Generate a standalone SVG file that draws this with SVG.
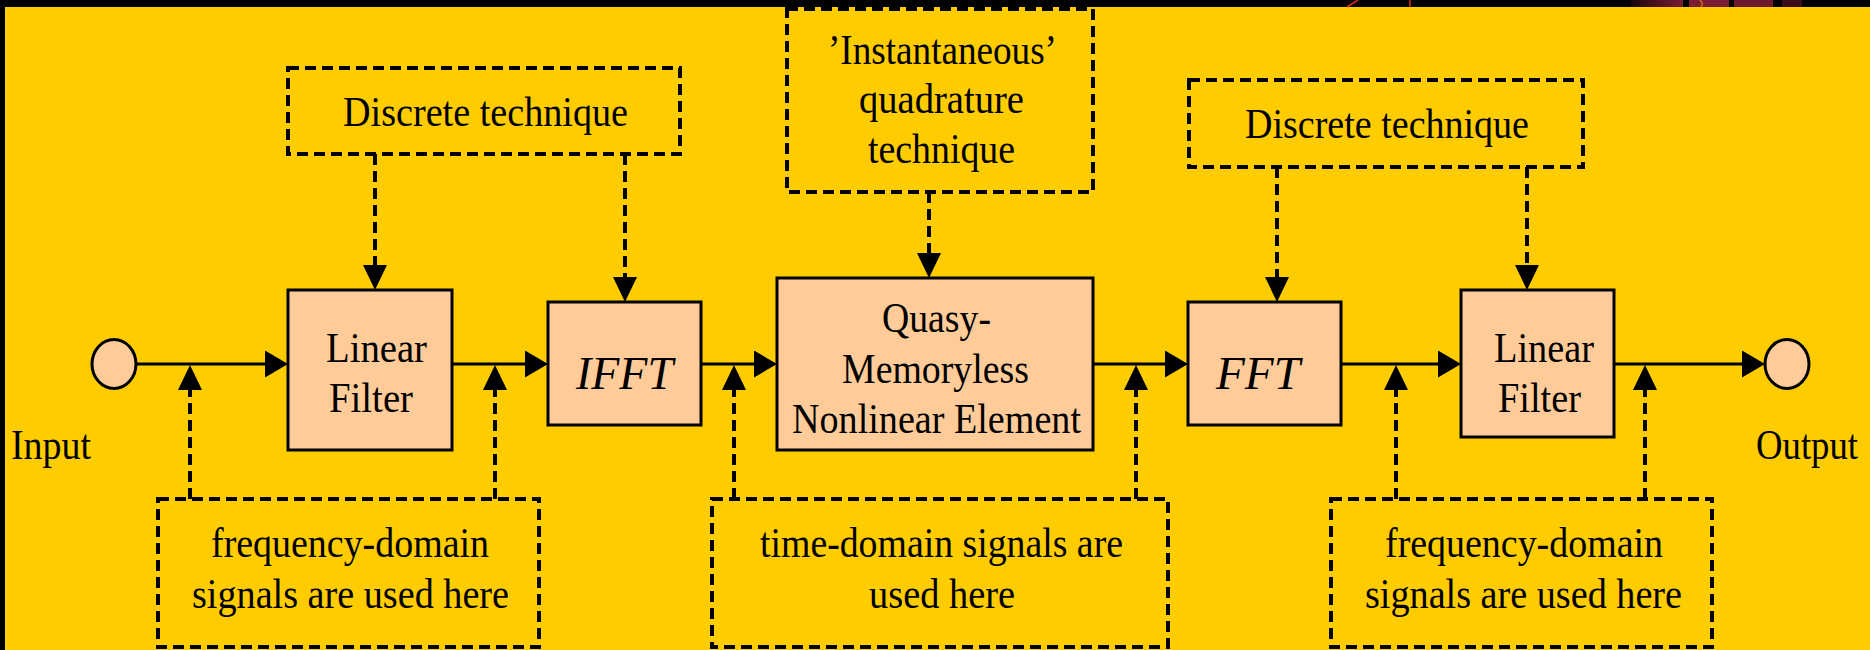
<svg xmlns="http://www.w3.org/2000/svg" width="1870" height="650" viewBox="0 0 1870 650">
  <style>
    .bg { fill: #FFCC00; }
    .blk { fill: #000000; }
    .box { fill: #FFCC99; stroke: #000; stroke-width: 3; }
    .note { fill: none; stroke: #000; stroke-width: 4; stroke-dasharray: 11 6; }
    .flow { fill: none; stroke: #000; stroke-width: 3.2; marker-end: url(#arrH); }
    .ctl { fill: none; stroke: #000; stroke-width: 4; stroke-dasharray: 11 6; marker-end: url(#arrV); }
    text { font-family: "Liberation Serif", "Times New Roman", serif; font-size: 42px; fill: #000; }
    .it { font-style: italic; font-size: 46px; }
  </style>
  <defs>
    <marker id="arrH" markerUnits="userSpaceOnUse" markerWidth="23" markerHeight="27" viewBox="0 0 23 27" refX="0" refY="13.5" orient="auto">
      <path d="M0,0 L23,13.5 L0,27 Z" fill="#000"/>
    </marker>
    <marker id="arrV" markerUnits="userSpaceOnUse" markerWidth="25" markerHeight="24" viewBox="0 0 25 24" refX="0" refY="12" orient="auto">
      <path d="M0,0 L25,12 L0,24 Z" fill="#000"/>
    </marker>
    <linearGradient id="maroon" x1="0" y1="0" x2="1" y2="0">
      <stop offset="0" stop-color="#1a0508"/>
      <stop offset="1" stop-color="#7a1c33"/>
    </linearGradient>
  </defs>

  <!-- page background and frame -->
  <rect class="bg" x="0" y="0" width="1870" height="650"/>
  <rect class="blk" x="0" y="0" width="1870" height="7"/>
  <rect class="blk" x="0" y="0" width="5" height="650"/>
  <g id="corner-art">
    <line x1="1347" y1="7" x2="1358" y2="0" stroke="#e02a1a" stroke-width="1.5"/>
    <line x1="1410" y1="0" x2="1410" y2="7" stroke="#e02a1a" stroke-width="1.5"/>
    <rect x="1631" y="0" width="52" height="7" fill="url(#maroon)"/>
    <rect x="1689" y="0" width="40" height="7" fill="#7a1c33"/>
    <rect x="1734" y="0" width="39" height="7" fill="#6e1a2e"/>
    <rect x="1782" y="0" width="20" height="7" fill="#3a0d18"/>
    <path d="M1700,0 Q1704,4 1701,7" stroke="#e07a1a" stroke-width="1.2" fill="none"/>
  </g>

  <!-- connectors -->
  <g id="connectors">
    <!-- main signal path -->
    <path class="flow" d="M136,364 H265"/>
    <path class="flow" d="M452,364 H525"/>
    <path class="flow" d="M701,364 H754"/>
    <path class="flow" d="M1093,364 H1165"/>
    <path class="flow" d="M1341,364 H1438"/>
    <path class="flow" d="M1614,364 H1742"/>
    <!-- technique notes into blocks -->
    <path class="ctl" d="M375,154 V265"/>
    <path class="ctl" d="M625,154 V277"/>
    <path class="ctl" d="M929,192 V253"/>
    <path class="ctl" d="M1277,167 V277"/>
    <path class="ctl" d="M1527,167 V265"/>
    <!-- signal-domain notes onto links -->
    <path class="ctl" d="M190,499 V390"/>
    <path class="ctl" d="M495,499 V390"/>
    <path class="ctl" d="M734,499 V390"/>
    <path class="ctl" d="M1136,499 V390"/>
    <path class="ctl" d="M1396,499 V390"/>
    <path class="ctl" d="M1645,499 V390"/>
  </g>

  <!-- terminals -->
  <g id="input">
    <ellipse class="box" cx="114" cy="364" rx="22" ry="24.5"/>
    <text x="11" y="459" textLength="80" lengthAdjust="spacingAndGlyphs">Input</text>
  </g>
  <g id="output">
    <ellipse class="box" cx="1787" cy="364" rx="22" ry="24.5"/>
    <text x="1756" y="459" textLength="102" lengthAdjust="spacingAndGlyphs">Output</text>
  </g>

  <!-- processing blocks -->
  <g id="linear-filter-1">
    <rect class="box" x="288" y="290" width="164" height="160"/>
    <text x="326" y="362" textLength="101" lengthAdjust="spacingAndGlyphs">Linear</text>
    <text x="329" y="412" textLength="84" lengthAdjust="spacingAndGlyphs">Filter</text>
  </g>
  <g id="ifft">
    <rect class="box" x="548" y="302" width="153" height="123"/>
    <text class="it" x="576" y="389" textLength="97" lengthAdjust="spacingAndGlyphs">IFFT</text>
  </g>
  <g id="nonlinear-element">
    <rect class="box" x="777" y="278" width="316" height="172"/>
    <text x="882" y="332" textLength="109" lengthAdjust="spacingAndGlyphs">Quasy-</text>
    <text x="842" y="383" textLength="187" lengthAdjust="spacingAndGlyphs">Memoryless</text>
    <text x="792" y="433" textLength="289" lengthAdjust="spacingAndGlyphs">Nonlinear Element</text>
  </g>
  <g id="fft">
    <rect class="box" x="1188" y="302" width="153" height="123"/>
    <text class="it" x="1216" y="389" textLength="84" lengthAdjust="spacingAndGlyphs">FFT</text>
  </g>
  <g id="linear-filter-2">
    <rect class="box" x="1461" y="290" width="153" height="147"/>
    <text x="1494" y="362" textLength="100" lengthAdjust="spacingAndGlyphs">Linear</text>
    <text x="1498" y="412" textLength="83" lengthAdjust="spacingAndGlyphs">Filter</text>
  </g>

  <!-- technique notes -->
  <g id="note-discrete-1">
    <rect class="note" x="288" y="68" width="392" height="86"/>
    <text x="343" y="126" textLength="285" lengthAdjust="spacingAndGlyphs">Discrete technique</text>
  </g>
  <g id="note-quadrature">
    <rect class="note" x="787" y="9" width="306" height="183"/>
    <text x="828" y="64" textLength="229" lengthAdjust="spacingAndGlyphs">’Instantaneous’</text>
    <text x="859" y="113" textLength="165" lengthAdjust="spacingAndGlyphs">quadrature</text>
    <text x="868" y="163" textLength="147" lengthAdjust="spacingAndGlyphs">technique</text>
  </g>
  <g id="note-discrete-2">
    <rect class="note" x="1189" y="80" width="394" height="87"/>
    <text x="1245" y="138" textLength="284" lengthAdjust="spacingAndGlyphs">Discrete technique</text>
  </g>

  <!-- signal-domain notes -->
  <g id="note-freq-1">
    <rect class="note" x="158" y="499" width="381" height="148"/>
    <text x="211" y="557" textLength="278" lengthAdjust="spacingAndGlyphs">frequency-domain</text>
    <text x="192" y="608" textLength="317" lengthAdjust="spacingAndGlyphs">signals are used here</text>
  </g>
  <g id="note-time">
    <rect class="note" x="712" y="499" width="456" height="148"/>
    <text x="760" y="557" textLength="363" lengthAdjust="spacingAndGlyphs">time-domain signals are</text>
    <text x="869" y="608" textLength="146" lengthAdjust="spacingAndGlyphs">used here</text>
  </g>
  <g id="note-freq-2">
    <rect class="note" x="1331" y="499" width="381" height="148"/>
    <text x="1385" y="557" textLength="278" lengthAdjust="spacingAndGlyphs">frequency-domain</text>
    <text x="1365" y="608" textLength="317" lengthAdjust="spacingAndGlyphs">signals are used here</text>
  </g>
</svg>
